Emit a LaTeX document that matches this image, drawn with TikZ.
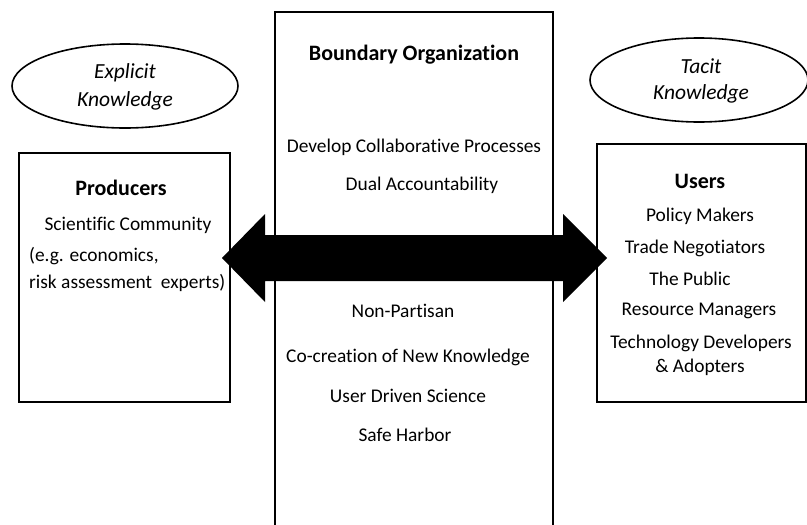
\documentclass[tikz,border=0pt]{standalone}
\usepackage{fontspec}
\setmainfont{Carlito}[Ligatures={NoCommon,NoRare,NoDiscretionary},Contextuals=NoAlternate]
\usetikzlibrary{shapes.geometric}
\begin{document}
\begin{tikzpicture}[x=1pt,y=-1pt,
  frame/.style={draw=black,line width=1.8pt,inner sep=0pt},
  oval/.style={ellipse,draw=black,line width=1.6pt,inner sep=0pt},
  txt/.style={font=\fontsize{19.4}{23}\selectfont,inner sep=0pt,anchor=center},
  ttl/.style={font=\fontsize{22}{26}\selectfont\bfseries,inner sep=0pt,anchor=center},
  itl/.style={font=\fontsize{21.5}{25}\selectfont\itshape,inner sep=0pt,anchor=center}]
\useasboundingbox (0,0) rectangle (807,525);
% boxes
\node[frame,minimum width=278pt,minimum height=520pt] (bo) at (414,272) {};
\node[frame,minimum width=211pt,minimum height=249pt] (prod) at (124.5,277.5) {};
\node[frame,minimum width=209pt,minimum height=258pt] (users) at (701.5,273) {};
% ellipses
\node[oval,minimum width=226pt,minimum height=84pt] (expl) at (125,86) {};
\node[oval,minimum width=218pt,minimum height=84pt] (tac) at (699,80) {};
\node[itl] (e1) at (125,73) {Explicit};
\node[itl] (e2) at (125,101) {Knowledge};
\node[itl] (t1) at (701,66) {Tacit};
\node[itl] (t2) at (701,94) {Knowledge};
% arrow
\coordinate (lt) at (222,258);
\coordinate (rt) at (607,258);
\fill[black] (lt) -- ++(43,-44) -- ++(0,21) -- (563,235) -- ++(0,-21) -- (rt)
  -- (563,302) -- ++(0,-21) -- (265,281) -- ++(0,21) -- cycle;
% center texts
\node[ttl] (bt) at (414,55) {Boundary Organization};
\node[txt] (b1) at (414,147) {Develop Collaborative Processes};
\node[txt] (b2) at (422,185) {Dual Accountability};
\node[txt] (b3) at (403,311) {Non-Partisan};
\node[txt] (b4) at (408,357) {Co-creation of New Knowledge};
\node[txt] (b5) at (408,396) {User Driven Science};
\node[txt] (b6) at (405,435) {Safe Harbor};
% producers
\node[ttl] (pt) at (121,188) {Producers};
\node[txt] (p1) at (128,225) {Scientific Community};
\node[txt,anchor=west] (p2) at (29,256) {(e.g. economics,};
\node[txt,anchor=west] (p3) at (29,283) {risk assessment\ \ experts)};
% users
\node[ttl] (ut) at (700,181) {Users};
\node[txt] (u1) at (700,216) {Policy Makers};
\node[txt] (u2) at (695,248) {Trade Negotiators};
\node[txt] (u3) at (690,279) {The Public};
\node[txt] (u4) at (699,311) {Resource Managers};
\node[txt] (u5) at (701,343) {Technology Developers};
\node[txt] (u6) at (700,367) {\& Adopters};
\end{tikzpicture}
\end{document}
